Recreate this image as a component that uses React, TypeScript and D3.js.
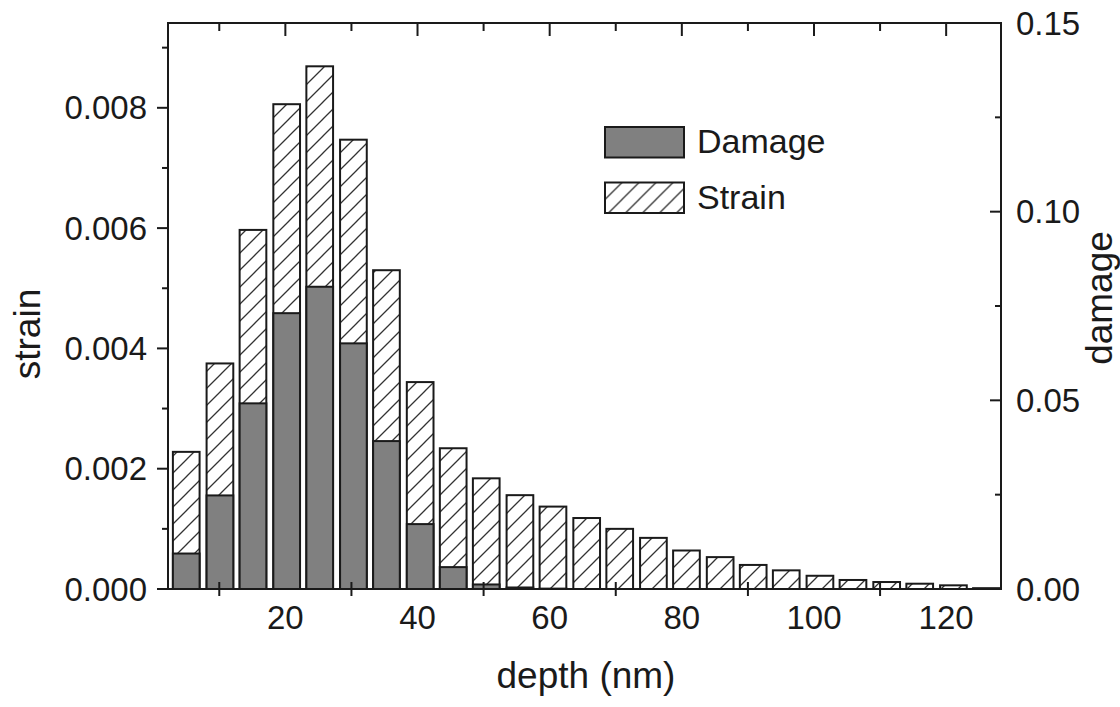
import React, { useEffect } from 'react';
import * as d3 from 'd3';

const depths = [5.0, 10.1, 15.1, 20.2, 25.2, 30.3, 35.3, 40.4, 45.4, 50.4, 55.5, 60.5, 65.6,
  70.6, 75.7, 80.7, 85.8, 90.8, 95.8, 100.9, 105.9, 111.0, 116.0, 121.1, 126.1];
const strain = [0.00228, 0.00375, 0.00597, 0.00806, 0.00869, 0.00747, 0.0053, 0.00344, 0.00234,
  0.00184, 0.00156, 0.00137, 0.00118, 0.001, 0.00085, 0.00064, 0.00053, 0.0004, 0.00031,
  0.00022, 0.00015, 0.000116, 0.000088, 0.000061, 0.000012];
const damage = [0.0094, 0.0248, 0.0492, 0.0731, 0.0801, 0.0651, 0.0392, 0.0172, 0.0058,
  0.0012, 0.0004, 0.0001, 0, 0, 0, 0, 0, 0, 0, 0, 0, 0, 0, 0, 0.0001];

const xTickLabels = [20, 40, 60, 80, 100, 120];
const xMinorTicks = [10, 30, 50, 70, 90, 110];
const strainTicks = [0, 0.002, 0.004, 0.006, 0.008];
const strainMinor = [0.001, 0.003, 0.005, 0.007, 0.009];
const damageTicks = [0, 0.05, 0.1, 0.15];
const damageMinor = [0.025, 0.075, 0.125];
const legendItems = ['Damage', 'Strain'];

const W = 1120;
const H = 707;
const m = { left: 168, right: 1001, top: 23, bottom: 589 };
const font = '"Liberation Sans", Arial, sans-serif';
const ink = '#1a1a1a';

const App = () => {
  useEffect(() => {
    document.body.style.margin = '0';
  }, []);

  const x = d3.scaleLinear().domain([2.24, 128.3]).range([m.left, m.right]);
  const yL = d3.scaleLinear().domain([0, 0.00941]).range([m.bottom, m.top]);
  const yR = d3.scaleLinear().domain([0, 0.15]).range([m.bottom, m.top]);
  const barW = x(4.04) - x(0);

  return (
    <svg width={W} height={H} style={{ display: 'block', background: '#fff' }} fontFamily={font}>
      <defs>
        <pattern id="hatch" patternUnits="userSpaceOnUse" width="17" height="17">
          <rect width="17" height="17" fill="#fff" />
          <path d="M0,17 L17,0 M-4,4 L4,-4 M13,21 L21,13" stroke="#333" strokeWidth="1.3" />
        </pattern>
      </defs>

      {/* strain bars */}
      {depths.map((d, i) => (
        <rect key={'s' + i} x={x(d) - barW / 2} y={yL(strain[i])} width={barW}
          height={m.bottom - yL(strain[i])} fill="url(#hatch)" stroke={ink} strokeWidth={2} />
      ))}
      {/* damage bars */}
      {depths.map((d, i) => damage[i] > 0 && (
        <rect key={'d' + i} x={x(d) - barW / 2} y={yR(damage[i])} width={barW}
          height={m.bottom - yR(damage[i])} fill="#808080" stroke={ink} strokeWidth={2} />
      ))}

      {/* frame */}
      <rect x={m.left} y={m.top} width={m.right - m.left} height={m.bottom - m.top}
        fill="none" stroke={ink} strokeWidth={2} />

      {/* bottom / top ticks */}
      {xMinorTicks.map(t => (
        <g key={'xm' + t}>
          <line x1={x(t)} x2={x(t)} y1={m.bottom - 7} y2={m.bottom + 7} stroke={ink} strokeWidth={2} />
          <line x1={x(t)} x2={x(t)} y1={m.top} y2={m.top + 8} stroke={ink} strokeWidth={2} />
        </g>
      ))}
      {xTickLabels.map(t => (
        <g key={'x' + t}>
          <line x1={x(t)} x2={x(t)} y1={m.top} y2={m.top + 13} stroke={ink} strokeWidth={2} />
          <text x={x(t)} y={629} textAnchor="middle" fontSize={33} fill={ink}>{t}</text>
        </g>
      ))}

      {/* left axis */}
      {strainTicks.map(t => (
        <g key={'l' + t}>
          <line x1={m.left - 11} x2={m.left} y1={yL(t)} y2={yL(t)} stroke={ink} strokeWidth={2} />
          <text x={147} y={yL(t)} dy="0.35em" textAnchor="end" fontSize={33} fill={ink}>{t.toFixed(3)}</text>
        </g>
      ))}
      {strainMinor.map(t => (
        <line key={'lm' + t} x1={m.left - 6} x2={m.left} y1={yL(t)} y2={yL(t)} stroke={ink} strokeWidth={2} />
      ))}

      {/* right axis */}
      {damageTicks.map(t => (
        <g key={'r' + t}>
          <line x1={m.right - 11} x2={m.right} y1={yR(t)} y2={yR(t)} stroke={ink} strokeWidth={2} />
          <text x={1016} y={yR(t)} dy="0.35em" textAnchor="start" fontSize={33} fill={ink}>{t.toFixed(2)}</text>
        </g>
      ))}
      {damageMinor.map(t => (
        <line key={'rm' + t} x1={m.right - 6} x2={m.right} y1={yR(t)} y2={yR(t)} stroke={ink} strokeWidth={2} />
      ))}

      {/* axis titles */}
      <text x={586} y={688} textAnchor="middle" fontSize={37} fill={ink}>depth (nm)</text>
      <text transform="translate(40,334) rotate(-90)" textAnchor="middle" fontSize={37} fill={ink}>strain</text>
      <text transform="translate(1112,298) rotate(-90)" textAnchor="middle" fontSize={37} fill={ink}>damage</text>

      {/* legend */}
      {legendItems.map((name, i) => (
        <g key={name} transform={`translate(605,${127 + i * 55.5})`}>
          <rect width={79} height={30.5} fill={i === 0 ? '#808080' : 'url(#hatch)'} stroke={ink} strokeWidth={2} />
          <text x={92} y={26} fontSize={34} fill={ink}>{name}</text>
        </g>
      ))}
    </svg>
  );
};

export default App;
